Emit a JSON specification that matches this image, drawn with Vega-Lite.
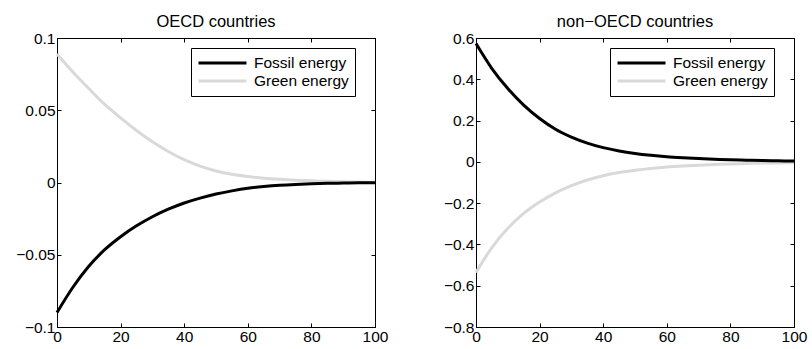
{
  "$schema": "https://vega.github.io/schema/vega-lite/v6.json",
  "autosize": {"type": "pad"},
  "padding": {"left": 15, "top": 13, "right": 5, "bottom": 0},
  "background": "white",
  "datasets": {
    "d": [
      {"panel": "OECD", "series": "Fossil energy", "x": 0, "y": -0.090},
      {"panel": "OECD", "series": "Fossil energy", "x": 5, "y": -0.0725},
      {"panel": "OECD", "series": "Fossil energy", "x": 10, "y": -0.058},
      {"panel": "OECD", "series": "Fossil energy", "x": 15, "y": -0.0465},
      {"panel": "OECD", "series": "Fossil energy", "x": 20, "y": -0.0375},
      {"panel": "OECD", "series": "Fossil energy", "x": 25, "y": -0.030},
      {"panel": "OECD", "series": "Fossil energy", "x": 30, "y": -0.0237},
      {"panel": "OECD", "series": "Fossil energy", "x": 35, "y": -0.0185},
      {"panel": "OECD", "series": "Fossil energy", "x": 40, "y": -0.0142},
      {"panel": "OECD", "series": "Fossil energy", "x": 45, "y": -0.0108},
      {"panel": "OECD", "series": "Fossil energy", "x": 50, "y": -0.0080},
      {"panel": "OECD", "series": "Fossil energy", "x": 55, "y": -0.0058},
      {"panel": "OECD", "series": "Fossil energy", "x": 60, "y": -0.0040},
      {"panel": "OECD", "series": "Fossil energy", "x": 65, "y": -0.0028},
      {"panel": "OECD", "series": "Fossil energy", "x": 70, "y": -0.0019},
      {"panel": "OECD", "series": "Fossil energy", "x": 75, "y": -0.0013},
      {"panel": "OECD", "series": "Fossil energy", "x": 80, "y": -0.0009},
      {"panel": "OECD", "series": "Fossil energy", "x": 85, "y": -0.0006},
      {"panel": "OECD", "series": "Fossil energy", "x": 90, "y": -0.0004},
      {"panel": "OECD", "series": "Fossil energy", "x": 95, "y": -0.0002},
      {"panel": "OECD", "series": "Fossil energy", "x": 100, "y": -0.0001},
      {"panel": "OECD", "series": "Green energy", "x": 0, "y": 0.089},
      {"panel": "OECD", "series": "Green energy", "x": 5, "y": 0.0765},
      {"panel": "OECD", "series": "Green energy", "x": 10, "y": 0.065},
      {"panel": "OECD", "series": "Green energy", "x": 15, "y": 0.054},
      {"panel": "OECD", "series": "Green energy", "x": 20, "y": 0.0447},
      {"panel": "OECD", "series": "Green energy", "x": 25, "y": 0.036},
      {"panel": "OECD", "series": "Green energy", "x": 30, "y": 0.0282},
      {"panel": "OECD", "series": "Green energy", "x": 35, "y": 0.0215},
      {"panel": "OECD", "series": "Green energy", "x": 40, "y": 0.0158},
      {"panel": "OECD", "series": "Green energy", "x": 45, "y": 0.0113},
      {"panel": "OECD", "series": "Green energy", "x": 50, "y": 0.0080},
      {"panel": "OECD", "series": "Green energy", "x": 55, "y": 0.0057},
      {"panel": "OECD", "series": "Green energy", "x": 60, "y": 0.0042},
      {"panel": "OECD", "series": "Green energy", "x": 65, "y": 0.0030},
      {"panel": "OECD", "series": "Green energy", "x": 70, "y": 0.0022},
      {"panel": "OECD", "series": "Green energy", "x": 75, "y": 0.0016},
      {"panel": "OECD", "series": "Green energy", "x": 80, "y": 0.0012},
      {"panel": "OECD", "series": "Green energy", "x": 85, "y": 0.0008},
      {"panel": "OECD", "series": "Green energy", "x": 90, "y": 0.0005},
      {"panel": "OECD", "series": "Green energy", "x": 95, "y": 0.0003},
      {"panel": "OECD", "series": "Green energy", "x": 100, "y": 0.0001},
      {"panel": "non-OECD", "series": "Fossil energy", "x": 0, "y": 0.573},
      {"panel": "non-OECD", "series": "Fossil energy", "x": 5, "y": 0.452},
      {"panel": "non-OECD", "series": "Fossil energy", "x": 10, "y": 0.355},
      {"panel": "non-OECD", "series": "Fossil energy", "x": 15, "y": 0.275},
      {"panel": "non-OECD", "series": "Fossil energy", "x": 20, "y": 0.210},
      {"panel": "non-OECD", "series": "Fossil energy", "x": 25, "y": 0.158},
      {"panel": "non-OECD", "series": "Fossil energy", "x": 30, "y": 0.120},
      {"panel": "non-OECD", "series": "Fossil energy", "x": 35, "y": 0.091},
      {"panel": "non-OECD", "series": "Fossil energy", "x": 40, "y": 0.069},
      {"panel": "non-OECD", "series": "Fossil energy", "x": 45, "y": 0.053},
      {"panel": "non-OECD", "series": "Fossil energy", "x": 50, "y": 0.041},
      {"panel": "non-OECD", "series": "Fossil energy", "x": 55, "y": 0.032},
      {"panel": "non-OECD", "series": "Fossil energy", "x": 60, "y": 0.025},
      {"panel": "non-OECD", "series": "Fossil energy", "x": 65, "y": 0.020},
      {"panel": "non-OECD", "series": "Fossil energy", "x": 70, "y": 0.016},
      {"panel": "non-OECD", "series": "Fossil energy", "x": 75, "y": 0.013},
      {"panel": "non-OECD", "series": "Fossil energy", "x": 80, "y": 0.010},
      {"panel": "non-OECD", "series": "Fossil energy", "x": 85, "y": 0.008},
      {"panel": "non-OECD", "series": "Fossil energy", "x": 90, "y": 0.006},
      {"panel": "non-OECD", "series": "Fossil energy", "x": 95, "y": 0.005},
      {"panel": "non-OECD", "series": "Fossil energy", "x": 100, "y": 0.004},
      {"panel": "non-OECD", "series": "Green energy", "x": 0, "y": -0.536},
      {"panel": "non-OECD", "series": "Green energy", "x": 5, "y": -0.415},
      {"panel": "non-OECD", "series": "Green energy", "x": 10, "y": -0.322},
      {"panel": "non-OECD", "series": "Green energy", "x": 15, "y": -0.250},
      {"panel": "non-OECD", "series": "Green energy", "x": 20, "y": -0.195},
      {"panel": "non-OECD", "series": "Green energy", "x": 25, "y": -0.150},
      {"panel": "non-OECD", "series": "Green energy", "x": 30, "y": -0.115},
      {"panel": "non-OECD", "series": "Green energy", "x": 35, "y": -0.088},
      {"panel": "non-OECD", "series": "Green energy", "x": 40, "y": -0.067},
      {"panel": "non-OECD", "series": "Green energy", "x": 45, "y": -0.052},
      {"panel": "non-OECD", "series": "Green energy", "x": 50, "y": -0.041},
      {"panel": "non-OECD", "series": "Green energy", "x": 55, "y": -0.032},
      {"panel": "non-OECD", "series": "Green energy", "x": 60, "y": -0.025},
      {"panel": "non-OECD", "series": "Green energy", "x": 65, "y": -0.020},
      {"panel": "non-OECD", "series": "Green energy", "x": 70, "y": -0.016},
      {"panel": "non-OECD", "series": "Green energy", "x": 75, "y": -0.013},
      {"panel": "non-OECD", "series": "Green energy", "x": 80, "y": -0.010},
      {"panel": "non-OECD", "series": "Green energy", "x": 85, "y": -0.008},
      {"panel": "non-OECD", "series": "Green energy", "x": 90, "y": -0.006},
      {"panel": "non-OECD", "series": "Green energy", "x": 95, "y": -0.005},
      {"panel": "non-OECD", "series": "Green energy", "x": 100, "y": -0.004}
    ]
  },
  "data": {"name": "d"},
  "spacing": 101,
  "bounds": "flush",
  "resolve": {"scale": {"color": "independent"}, "legend": {"color": "independent"}},
  "hconcat": [
    {
      "title": "OECD countries",
      "width": 318,
      "height": 289,
      "transform": [{"filter": "datum.panel == 'OECD'"}],
      "resolve": {"axis": {"x": "independent", "y": "independent"}},
      "layer": [
        {
          "transform": [{"filter": "datum.series == 'Green energy'"}],
          "mark": {"type": "line", "strokeWidth": 3, "interpolate": "monotone"},
          "encoding": {
            "x": {"field": "x", "type": "quantitative", "scale": {"domain": [0, 100], "nice": false}, "axis": {"orient": "top", "labels": false, "values": [0, 20, 40, 60, 80, 100], "minExtent": 0, "maxExtent": 0}, "title": null},
            "y": {"field": "y", "type": "quantitative", "scale": {"domain": [-0.1, 0.1], "nice": false, "zero": false}, "axis": {"orient": "right", "labels": false, "values": [-0.1, -0.05, 0, 0.05, 0.1], "minExtent": 0, "maxExtent": 0}, "title": null},
            "color": {"field": "series", "type": "nominal", "scale": {"domain": ["Fossil energy", "Green energy"], "range": ["#000000", "#d9d9d9"]}, "legend": {"orient": "none", "legendX": 134, "legendY": 10}}
          }
        },
        {
          "transform": [{"filter": "datum.series == 'Fossil energy'"}],
          "mark": {"type": "line", "strokeWidth": 3, "interpolate": "monotone"},
          "encoding": {
            "x": {"field": "x", "type": "quantitative", "scale": {"domain": [0, 100], "nice": false}, "axis": {"orient": "bottom", "values": [0, 20, 40, 60, 80, 100], "format": "d", "labelPadding": 6}, "title": null},
            "y": {"field": "y", "type": "quantitative", "scale": {"domain": [-0.1, 0.1], "nice": false, "zero": false}, "axis": {"orient": "left", "values": [-0.1, -0.05, 0, 0.05, 0.1], "format": "~g", "labelPadding": 6}, "title": null},
            "color": {"field": "series", "type": "nominal", "scale": {"domain": ["Fossil energy", "Green energy"], "range": ["#000000", "#d9d9d9"]}, "legend": {"orient": "none", "legendX": 134, "legendY": 10}}
          }
        }
      ]
    },
    {
      "title": "non−OECD countries",
      "width": 318,
      "height": 289,
      "transform": [{"filter": "datum.panel == 'non-OECD'"}],
      "resolve": {"axis": {"x": "independent", "y": "independent"}},
      "layer": [
        {
          "transform": [{"filter": "datum.series == 'Green energy'"}],
          "mark": {"type": "line", "strokeWidth": 3, "interpolate": "monotone"},
          "encoding": {
            "x": {"field": "x", "type": "quantitative", "scale": {"domain": [0, 100], "nice": false}, "axis": {"orient": "top", "labels": false, "values": [0, 20, 40, 60, 80, 100], "minExtent": 0, "maxExtent": 0}, "title": null},
            "y": {"field": "y", "type": "quantitative", "scale": {"domain": [-0.8, 0.6], "nice": false, "zero": false}, "axis": {"orient": "right", "labels": false, "values": [-0.8, -0.6, -0.4, -0.2, 0, 0.2, 0.4, 0.6], "minExtent": 0, "maxExtent": 0}, "title": null},
            "color": {"field": "series", "type": "nominal", "scale": {"domain": ["Fossil energy", "Green energy"], "range": ["#000000", "#d9d9d9"]}, "legend": {"orient": "none", "legendX": 134, "legendY": 10}}
          }
        },
        {
          "transform": [{"filter": "datum.series == 'Fossil energy'"}],
          "mark": {"type": "line", "strokeWidth": 3, "interpolate": "monotone"},
          "encoding": {
            "x": {"field": "x", "type": "quantitative", "scale": {"domain": [0, 100], "nice": false}, "axis": {"orient": "bottom", "values": [0, 20, 40, 60, 80, 100], "format": "d", "labelPadding": 6}, "title": null},
            "y": {"field": "y", "type": "quantitative", "scale": {"domain": [-0.8, 0.6], "nice": false, "zero": false}, "axis": {"orient": "left", "values": [-0.8, -0.6, -0.4, -0.2, 0, 0.2, 0.4, 0.6], "format": "~g", "labelPadding": 6}, "title": null},
            "color": {"field": "series", "type": "nominal", "scale": {"domain": ["Fossil energy", "Green energy"], "range": ["#000000", "#d9d9d9"]}, "legend": {"orient": "none", "legendX": 134, "legendY": 10}}
          }
        }
      ]
    }
  ],
  "config": {
    "font": "Liberation Sans",
    "view": {"stroke": "#000000", "strokeWidth": 1},
    "axis": {
      "grid": false,
      "domainColor": "#000000",
      "domainWidth": 1,
      "tickColor": "#000000",
      "tickWidth": 1,
      "tickSize": -4,
      "labelColor": "#000000",
      "labelFont": "Liberation Sans",
      "labelFontSize": 15.5,
      "labelPadding": 5,
      "labelFlush": false,
      "labelOverlap": false
    },
    "title": {"font": "Liberation Sans", "fontSize": 16.5, "fontWeight": "normal", "color": "#000000", "offset": 1},
    "legend": {
      "title": null,
      "symbolType": "stroke",
      "symbolSize": 2304,
      "symbolStrokeWidth": 3,
      "clipHeight": 18,
      "rowPadding": 0,
      "labelFont": "Liberation Sans",
      "labelFontSize": 15.5,
      "labelColor": "#000000",
      "labelOffset": 6,
      "padding": 6,
      "strokeColor": "#000000",
      "fillColor": "#ffffff"
    }
  }
}
